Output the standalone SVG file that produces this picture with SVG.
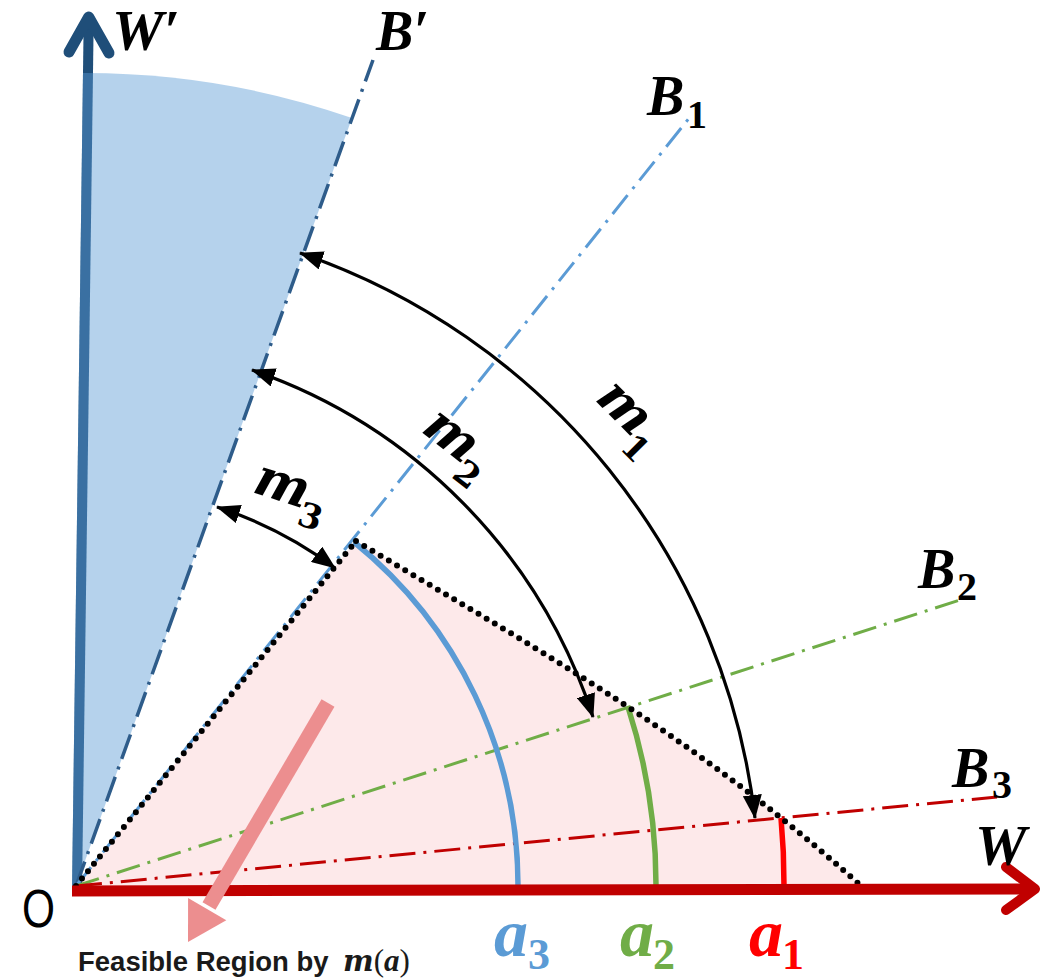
<svg xmlns="http://www.w3.org/2000/svg" width="1042" height="979" viewBox="0 0 1042 979">
<defs>
<marker id="ah" viewBox="0 0 24 19" refX="23" refY="9.5" markerWidth="24" markerHeight="19" markerUnits="userSpaceOnUse" orient="auto-start-reverse"><path d="M0,0 L24,9.5 L0,19 Z" fill="#000"/></marker>
<style>
.lbl{font-family:"Liberation Serif","Times New Roman",serif;font-weight:bold;font-style:italic;fill:#000}
.sub{font-family:"Liberation Serif","Times New Roman",serif;font-weight:bold;font-style:normal}
.ml{font-family:"DejaVu Serif",serif;font-weight:bold;font-style:italic;fill:#000}
.mls{font-family:"DejaVu Serif",serif;font-weight:bold;font-style:normal;fill:#000}
.dd{fill:none;stroke-width:3;stroke-dasharray:24 8 3 8}
.marc{fill:none;stroke:#000;stroke-width:3.2;marker-start:url(#ah);marker-end:url(#ah)}
.dots{fill:none;stroke:#000;stroke-width:6;stroke-linecap:round;stroke-dasharray:0 9.5}
.aarc{fill:none;stroke-width:5.5}
</style>
</defs>
<rect width="1042" height="979" fill="#fff"/>

<g id="feasible-region"><path d="M76,886 L356,541 C526,643 690,732 860,885 Z" fill="#FDE9EA"/></g>

<g id="axis-wprime">
<line x1="77" y1="891" x2="88.7" y2="20" stroke="#1F4E79" stroke-width="10"/>
<polyline points="69,52 88.7,17 109,53" fill="none" stroke="#1F4E79" stroke-width="11" stroke-linecap="round" stroke-linejoin="round"/>
</g>

<g id="blue-region"><path d="M72,888 L83,73 A814,814 0 0 1 352,118 L76,886 Z" fill="#5B9BD5" fill-opacity="0.45"/></g>

<g id="boundary-lines">
<line id="line-bprime" x1="76" y1="886" x2="373" y2="60" class="dd" stroke="#2E5C8A" style="stroke-width:3.5;stroke-dasharray:26 8 3 8"/>
<line id="line-b1" x1="76" y1="886" x2="690" y2="117" class="dd" stroke="#5B9BD5"/>
<line id="line-b2" x1="76" y1="886" x2="963" y2="599" class="dd" stroke="#70AD47"/>
<line id="line-b3" x1="76" y1="886" x2="997" y2="797" class="dd" stroke="#C00000" style="stroke-dasharray:26 8 3 8"/>
</g>

<g id="a-arcs">
<path id="arc-a3" d="M518,886 A442,442 0 0 0 354,542" class="aarc" stroke="#5B9BD5"/>
<path id="arc-a2" d="M656,886 A580,580 0 0 0 628,707" class="aarc" stroke="#70AD47"/>
<path id="arc-a1" d="M784,886 A707,707 0 0 0 781,818" class="aarc" stroke="#FF0000"/>
</g>

<g id="dotted-boundary">
<path d="M76,886 L356,541" class="dots"/>
<path d="M356,541 C526,643 690,732 860,885" class="dots"/>
</g>

<g id="axis-w">
<line x1="72" y1="891" x2="1033" y2="889" stroke="#C00000" stroke-width="11"/>
<polyline points="1006,867 1035,889 1006,910" fill="none" stroke="#C00000" stroke-width="10" stroke-linecap="round" stroke-linejoin="round"/>
</g>

<g id="feasible-arrow">
<line x1="328" y1="703" x2="209" y2="906" stroke="#EC8E8F" stroke-width="15"/>
<polygon points="188,942 226.3,920.3 188.1,898.1" fill="#EC8E8F"/>
</g>

<g id="connectors">
<path id="arc-m1" d="M755,818 A680,680 0 0 0 300,253" class="marc"/>
<path id="arc-m2" d="M593,717 A545,545 0 0 0 252,370" class="marc"/>
<path id="arc-m3" d="M335,568 A407,407 0 0 0 217,507" class="marc"/>
</g>

<g id="labels">
<text class="lbl" x="112" y="50" font-size="58">W′</text>
<text class="lbl" x="376" y="50" font-size="56">B′</text>
<g id="label-b1"><text class="lbl" x="647" y="115" font-size="56">B</text><text class="sub" x="687" y="128" font-size="40">1</text></g>
<g id="label-b2"><text class="lbl" x="918" y="588" font-size="56">B</text><text class="sub" x="957" y="600" font-size="40">2</text></g>
<g id="label-b3"><text class="lbl" x="952" y="787" font-size="56">B</text><text class="sub" x="992" y="798" font-size="40">3</text></g>
<text class="lbl" x="975" y="865" font-size="58">W</text>
<text x="0" y="0" transform="translate(22,927) scale(0.8,1)" font-family="Liberation Sans, Arial, sans-serif" font-size="53" fill="#000">O</text>
<g id="label-m1" transform="translate(623,410) rotate(45)"><text class="ml" x="-28" y="13" font-size="52">m</text><text class="mls" x="24" y="30" font-size="34">1</text></g>
<g id="label-m2" transform="translate(450,438) rotate(38)"><text class="ml" x="-28" y="13" font-size="52">m</text><text class="mls" x="24" y="30" font-size="34">2</text></g>
<g id="label-m3" transform="translate(282,488) rotate(18)"><text class="ml" x="-28" y="13" font-size="52">m</text><text class="mls" x="24" y="30" font-size="34">3</text></g>
<g id="label-a3" fill="#5B9BD5"><text class="lbl" style="fill:#5B9BD5" x="494" y="956" font-size="68">a</text><text class="sub" x="528" y="969" font-size="44">3</text></g>
<g id="label-a2" fill="#70AD47"><text class="lbl" style="fill:#70AD47" x="620" y="956" font-size="68">a</text><text class="sub" x="653" y="969" font-size="44">2</text></g>
<g id="label-a1" fill="#FF0000"><text class="lbl" style="fill:#FF0000" x="749" y="956" font-size="68">a</text><text class="sub" x="782" y="969" font-size="44">1</text></g>
<text x="78" y="971" font-family="Liberation Sans, Arial, sans-serif" font-weight="bold" font-size="27.5" fill="#1a1a1a">Feasible Region by <tspan font-family="DejaVu Serif, serif" font-style="italic" x="343" font-size="29">m</tspan><tspan font-family="Liberation Serif, serif" font-weight="normal" font-size="31">(</tspan><tspan font-family="Liberation Serif, serif" font-style="italic" font-size="31">a</tspan><tspan font-family="Liberation Serif, serif" font-weight="normal" font-size="31">)</tspan></text>
</g>
</svg>
